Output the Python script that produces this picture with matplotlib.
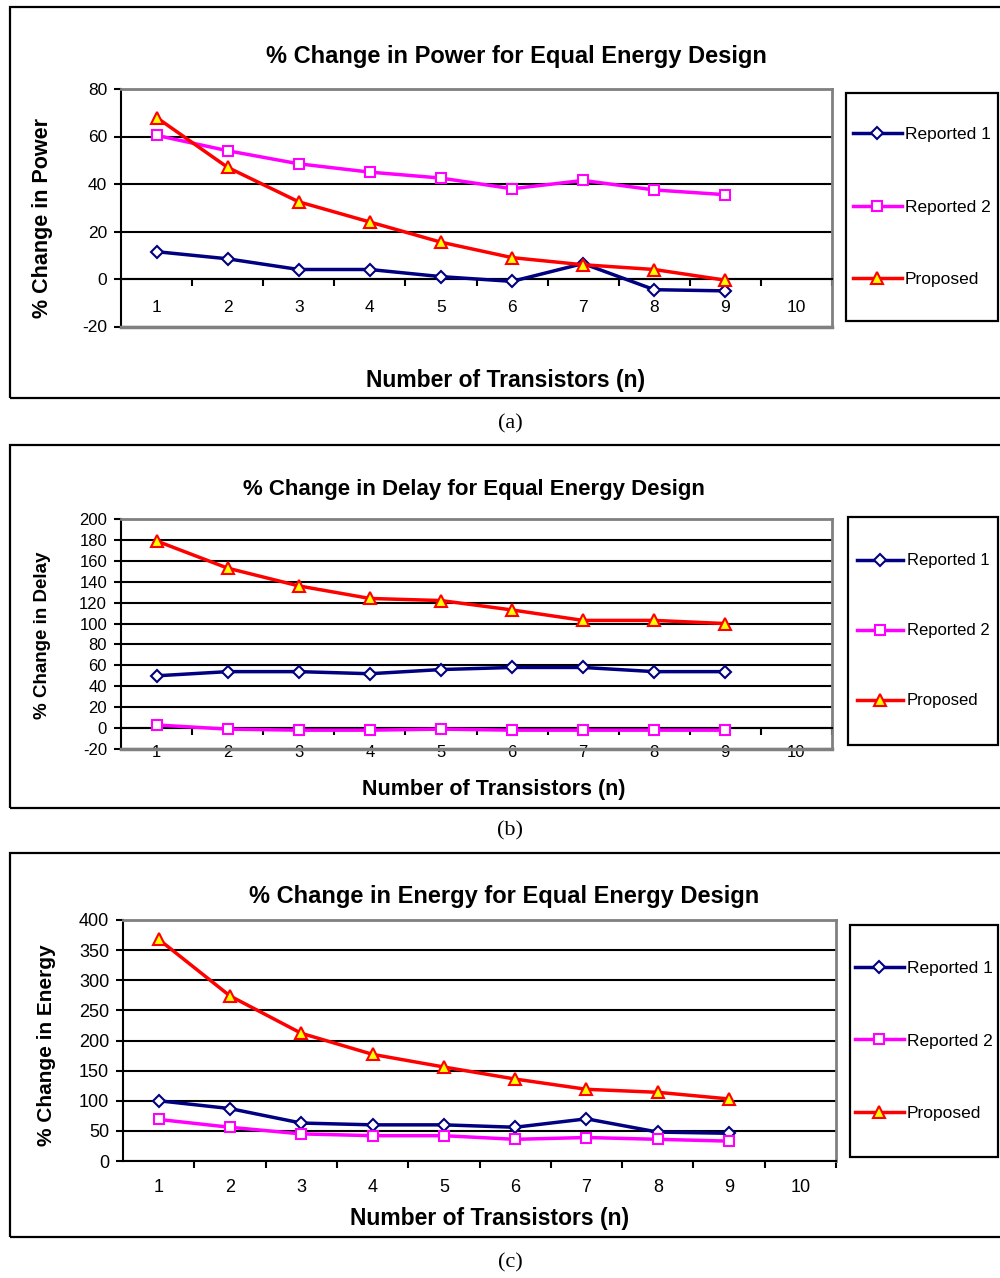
import matplotlib
matplotlib.use('Agg')
import matplotlib.pyplot as plt
from matplotlib.patches import Rectangle
import numpy as np

W, H = 1000, 1278
plt.rcParams['font.family'] = ['Liberation Sans', 'DejaVu Sans']

# ---------------- data ----------------
n_transistors = [1, 2, 3, 4, 5, 6, 7, 8, 9]
x_tick_labels = ['1', '2', '3', '4', '5', '6', '7', '8', '9', '10']
series_names = ['Reported 1', 'Reported 2', 'Proposed']

power_rep1 = [11.5, 8.5, 4, 4, 1, -1, 6.5, -4.5, -5]
power_rep2 = [60.5, 54, 48.5, 45, 42.5, 38, 41.5, 37.5, 35.5]
power_prop = [68, 47, 32.5, 24, 15.5, 9, 6, 4, -0.5]

delay_rep1 = [50, 54, 54, 52, 56, 58, 58, 54, 54]
delay_rep2 = [3, -1, -2, -2, -1, -2, -2, -2, -2]
delay_prop = [179, 153, 136, 124, 122, 113, 103, 103, 100]

energy_rep1 = [100, 87, 63, 60, 60, 56, 70, 48, 46]
energy_rep2 = [69, 56, 45, 42, 42, 36, 39, 36, 33]
energy_prop = [368, 274, 212, 177, 156, 136, 119, 114, 103]

power_yticks = [-20, 0, 20, 40, 60, 80]
delay_yticks = list(range(-20, 201, 20))
energy_yticks = list(range(0, 401, 50))

# ---------------- styles ----------------
styles = [
    dict(color='#000080', marker='D', markersize=6, mfc='white', mec='#000080', mew=1.5),
    dict(color='#FF00FF', marker='s', markersize=7.5, mfc='white', mec='#FF00FF', mew=1.5),
    dict(color='#FF0000', marker='^', markersize=9, mfc='#FFFF00', mec='#FF0000', mew=1.5),
]

fig = plt.figure(figsize=(W / 100, H / 100), dpi=100)


def rect(l, t, r, b):
    return [l / W, 1 - b / H, (r - l) / W, (b - t) / H]


def fxy(x, y):
    return x / W, 1 - y / H


panels = [
    dict(data=[power_rep1, power_rep2, power_prop], yticks=power_yticks,
         plot=(121, 89, 832, 326.5), box=(10, 7, 398), xzero=True, xpad=15,
         title='% Change in Power for Equal Energy Design', title_xy=(516, 56), title_fs=17,
         ylabel='% Change in Power', ylabel_xy=(43, 218), ylabel_fs=15.5,
         xlabel='Number of Transistors (n)', xlabel_xy=(506, 380), xlabel_fs=16.5,
         legend=(846, 93, 998, 321), legend_fs=12.5, caption='(a)', caption_y=424,
         tick_fs=12.5),
    dict(data=[delay_rep1, delay_rep2, delay_prop], yticks=delay_yticks,
         plot=(121, 519, 832, 749), box=(10, 445, 808), xzero=True, xpad=12,
         title='% Change in Delay for Equal Energy Design', title_xy=(474, 489), title_fs=16,
         ylabel='% Change in Delay', ylabel_xy=(43, 635), ylabel_fs=13.5,
         xlabel='Number of Transistors (n)', xlabel_xy=(494, 790), xlabel_fs=15.5,
         legend=(848, 517, 998, 745), legend_fs=12, caption='(b)', caption_y=831,
         tick_fs=12),
    dict(data=[energy_rep1, energy_rep2, energy_prop], yticks=energy_yticks,
         plot=(123, 920, 836, 1161), box=(10, 853, 1237), xzero=False, xpad=13,
         title='% Change in Energy for Equal Energy Design', title_xy=(504, 896), title_fs=17,
         ylabel='% Change in Energy', ylabel_xy=(47, 1045), ylabel_fs=15,
         xlabel='Number of Transistors (n)', xlabel_xy=(490, 1218), xlabel_fs=16.5,
         legend=(850, 925, 998, 1157), legend_fs=12.5, caption='(c)', caption_y=1263,
         tick_fs=13),
]

for p in panels:
    # outer frame of the panel
    bx0, bt, bb = p['box']
    x0, y0 = fxy(bx0, bb)
    fig.patches.append(Rectangle((x0, y0), (1015 - bx0) / W, (bb - bt) / H,
                                 transform=fig.transFigure, fill=False,
                                 edgecolor='black', linewidth=1.6, clip_on=False))

    ax = fig.add_axes(rect(*p['plot']))
    ax.set_axisbelow(True)

    # spines first (set_position resets ticks)
    for s in ('top', 'right'):
        ax.spines[s].set_color('#808080')
        ax.spines[s].set_linewidth(2)
    ax.spines['left'].set_color('black')
    ax.spines['left'].set_linewidth(1.5)
    ax.spines['bottom'].set_color('black')
    ax.spines['bottom'].set_linewidth(1.5)
    yt = p['yticks']
    if p['xzero']:
        ax.spines['bottom'].set_position(('data', 0))
        ax.spines['bottom'].set_zorder(3.5)

    handles = []
    for vals, st, name in zip(p['data'], styles, series_names):
        ln, = ax.plot(n_transistors, vals, linewidth=2.5, clip_on=False, zorder=4,
                      color=st['color'], marker=st['marker'], markersize=st['markersize'],
                      markerfacecolor=st['mfc'], markeredgecolor=st['mec'],
                      markeredgewidth=st['mew'], label=name)
        handles.append(ln)

    ax.set_ylim(yt[0], yt[-1])
    ax.set_yticks(yt)
    ax.set_yticklabels([str(v) for v in yt], fontsize=p['tick_fs'])
    ax.tick_params(axis='y', direction='out', length=5, width=1.5, pad=5, colors='black')
    ax.yaxis.grid(True, color='black', linewidth=1.5)

    ax.set_xlim(0.5, 10.5)
    ax.set_xticks(range(1, 11))
    ax.set_xticklabels(x_tick_labels, fontsize=p['tick_fs'])
    ax.set_xticks(np.arange(1.5, 11, 1), minor=True)
    ax.tick_params(axis='x', which='major', length=0, pad=p['xpad'])
    ax.tick_params(axis='x', which='minor', direction='out', length=5, width=1.5)

    if p['xzero']:
        ax.axhline(yt[0], color='#808080', linewidth=2.5, zorder=3, clip_on=False)

    # texts
    fig.text(*fxy(*p['title_xy']), p['title'], ha='center', va='center',
             fontsize=p['title_fs'], fontweight='bold')
    fig.text(*fxy(*p['ylabel_xy']), p['ylabel'], ha='center', va='center',
             rotation=90, fontsize=p['ylabel_fs'], fontweight='bold')
    fig.text(*fxy(*p['xlabel_xy']), p['xlabel'], ha='center', va='center',
             fontsize=p['xlabel_fs'], fontweight='bold')
    fig.text(*fxy(510, p['caption_y']), p['caption'], ha='center', va='center',
             fontsize=16, family=['Liberation Serif', 'DejaVu Serif'])

    # legend box
    ll, lt, lr, lb = p['legend']
    lx0, ly0 = fxy(ll, lb)
    fig.patches.append(Rectangle((lx0, ly0), (lr - ll) / W, (lb - lt) / H,
                                 transform=fig.transFigure, fill=False,
                                 edgecolor='black', linewidth=1.6))
    fig.legend(handles=handles, labels=series_names, loc='center',
               bbox_to_anchor=(ll / W, 1 - lb / H, (lr - ll) / W, (lb - lt) / H),
               bbox_transform=fig.transFigure, frameon=False, fontsize=p['legend_fs'],
               handlelength=2.8, handletextpad=0.2, labelspacing=3.3,
               borderpad=0.0, numpoints=1)

fig.savefig('out.png', dpi=100)
